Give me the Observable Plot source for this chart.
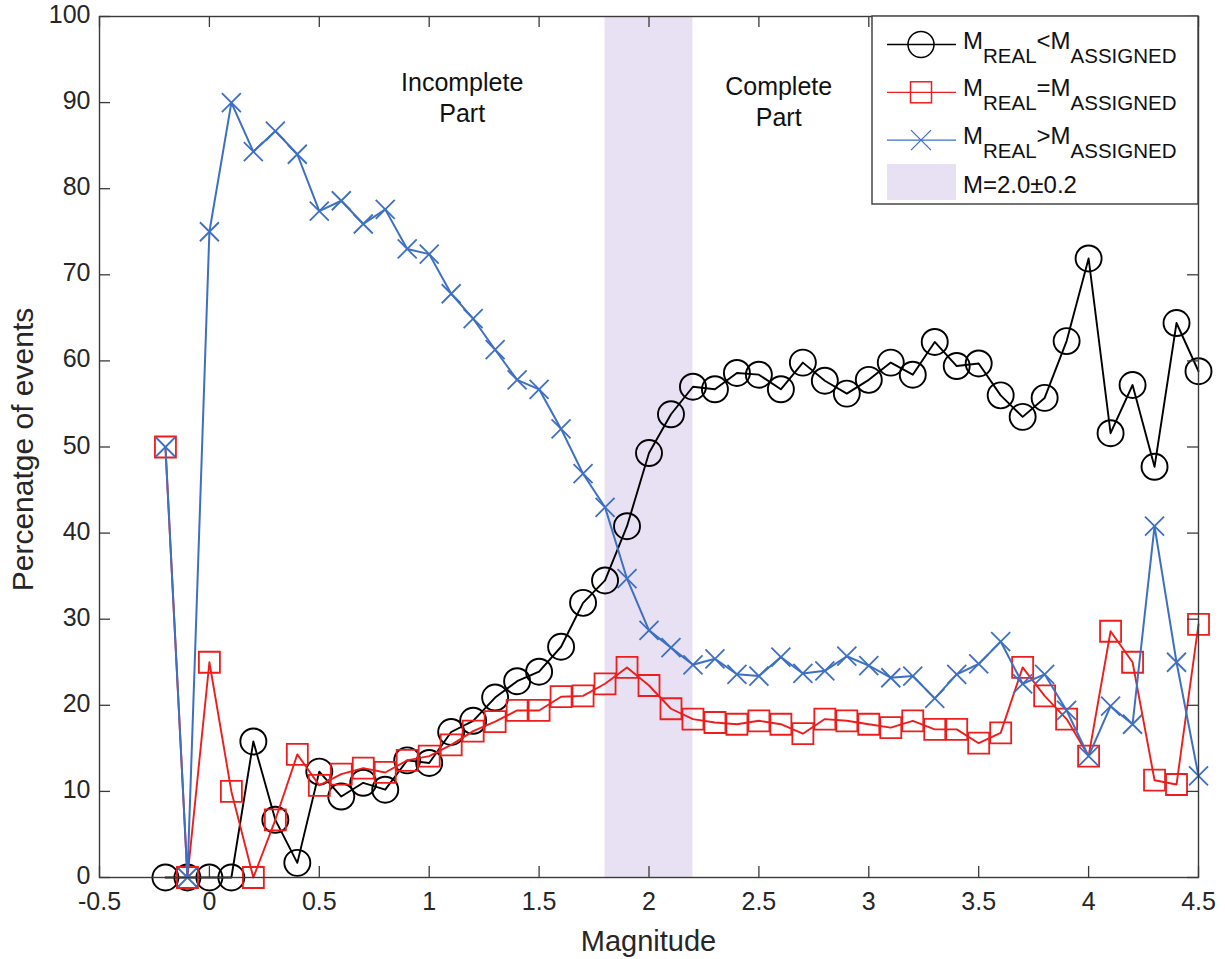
<!DOCTYPE html>
<html><head><meta charset="utf-8">
<script src="https://cdn.jsdelivr.net/npm/d3@7"></script>
<script src="https://cdn.jsdelivr.net/npm/@observablehq/plot@0.6"></script>
<style>
body{margin:0;background:#fff;}
#chart{position:relative;width:1225px;height:959px;}
</style>
</head><body><div id="chart"></div>
<script>
const magnitude = [-0.2,-0.1,0,0.1,0.2,0.3,0.4,0.5,0.6,0.7,0.8,0.9,1.0,1.1,1.2,1.3,1.4,1.5,1.6,1.7,1.8,1.9,2.0,2.1,2.2,2.3,2.4,2.5,2.6,2.7,2.8,2.9,3.0,3.1,3.2,3.3,3.4,3.5,3.6,3.7,3.8,3.9,4.0,4.1,4.2,4.3,4.4,4.5];
const realLess = [0,0,0,0,15.8,6.7,1.7,12.3,9.4,11.0,10.2,13.6,13.3,16.9,18.2,20.9,22.8,23.9,26.8,31.9,34.5,40.8,49.3,53.8,57.0,56.7,58.6,58.4,56.7,59.8,57.7,56.2,57.8,59.8,58.4,62.2,59.4,59.7,56.0,53.5,55.7,62.3,71.9,51.6,57.2,47.7,64.4,58.8];
const realEqual = [50,0,25,10,0,6.7,14.3,10.7,12.0,12.7,12.2,13.6,14.1,15.4,17.0,18.1,19.4,19.4,21.0,21.1,22.5,24.4,22.3,19.6,18.4,18.0,17.8,18.2,17.8,16.7,18.4,18.2,17.8,17.4,18.2,17.2,17.2,15.6,16.8,24.4,21.1,18.4,14.1,28.6,25.0,11.3,10.8,29.4];
const realGreater = [50,0,75,90,84.3,86.7,84.0,77.4,78.6,75.9,77.6,73.0,72.4,67.8,64.9,61.3,57.8,56.7,52.1,46.9,43.0,34.7,28.7,26.7,24.7,25.4,23.6,23.4,25.6,23.7,24.0,25.7,24.6,23.2,23.4,20.8,23.6,24.8,27.4,22.5,23.6,19.4,14.1,19.9,17.8,40.8,25.0,11.8];

const xTicks = [-0.5,0,0.5,1,1.5,2,2.5,3,3.5,4,4.5];
const xTickLabels = ["-0.5","0","0.5","1","1.5","2","2.5","3","3.5","4","4.5"];
const yTicks = [0,10,20,30,40,50,60,70,80,90,100];
const band = [{x1: 1.8, x2: 2.2}];
const annotations = [
  {x: 1.15, y: 93.9, text: "Incomplete\nPart"},
  {x: 2.59, y: 93.4, text: "Complete\nPart"}
];
const xLabel = "Magnitude";
const yLabel = "Percenatge of events";
const bandLabel = "M=2.0\u00B10.2";

const colBlack = "#000000", colRed = "#ee1d1d", colBlue = "#3d6fc2", colBand = "#e8e1f3", colAxis = "#3a3a3a";
const W = 1225, H = 959, mL = 99, mR = 27, mT = 16, mB = 82;
const innerW = W - mL - mR, innerH = H - mT - mB;
const FONT = "'Liberation Sans', Arial, Helvetica, sans-serif";

const toRows = ys => magnitude.map((m, i) => ({m, v: ys[i]}));
const lessRows = toRows(realLess), equalRows = toRows(realEqual), greaterRows = toRows(realGreater);
const xLabelMap = new Map(xTicks.map((t, i) => [t, xTickLabels[i]]));

const squareSym = {draw(ctx, size) { const r = Math.sqrt(size / Math.PI); ctx.moveTo(-r, -r); ctx.lineTo(r, -r); ctx.lineTo(r, r); ctx.lineTo(-r, r); ctx.closePath(); }};
const timesSym = {draw(ctx, size) { const r = Math.sqrt(size / Math.PI); ctx.moveTo(-r, -r); ctx.lineTo(r, r); ctx.moveTo(r, -r); ctx.lineTo(-r, r); }};

const chart = Plot.plot({
  width: W, height: H,
  marginLeft: mL, marginRight: mR, marginTop: mT, marginBottom: mB,
  x: {domain: [-0.5, 4.5]},
  y: {domain: [0, 100]},
  style: {fontFamily: FONT, fontSize: "25px", color: "#262626", background: "#fff", overflow: "visible"},
  marks: [
    Plot.rect(band, {x1: "x1", x2: "x2", fill: colBand}),
    Plot.line(lessRows, {x: "m", y: "v", stroke: colBlack, strokeWidth: 1.9}),
    Plot.dot(lessRows, {x: "m", y: "v", r: 13, stroke: colBlack, strokeWidth: 1.9, fill: "none"}),
    Plot.line(equalRows, {x: "m", y: "v", stroke: colRed, strokeWidth: 1.9}),
    Plot.dot(equalRows, {x: "m", y: "v", r: 10.5, symbol: squareSym, stroke: colRed, strokeWidth: 1.8, fill: "none"}),
    Plot.line(greaterRows, {x: "m", y: "v", stroke: colBlue, strokeWidth: 2}),
    Plot.dot(greaterRows, {x: "m", y: "v", r: 9.5, symbol: timesSym, stroke: colBlue, strokeWidth: 1.8, fill: "none"}),
    Plot.text(annotations, {x: "x", y: "y", text: "text", lineAnchor: "top", lineHeight: 1.24, fontSize: 25, fill: "#111", textAnchor: "middle"}),
    Plot.frame({stroke: colAxis, strokeWidth: 1.4}),
    Plot.tickX(xTicks, {x: d => d, insetTop: innerH - 11, stroke: colAxis, strokeWidth: 1.3}),
    Plot.tickX(xTicks, {x: d => d, insetBottom: innerH - 11, stroke: colAxis, strokeWidth: 1.3}),
    Plot.tickY(yTicks, {y: d => d, insetRight: innerW - 11, stroke: colAxis, strokeWidth: 1.3}),
    Plot.tickY(yTicks, {y: d => d, insetLeft: innerW - 11, stroke: colAxis, strokeWidth: 1.3}),
    Plot.axisX({ticks: xTicks, tickSize: 0, tickPadding: 15, tickFormat: d => xLabelMap.get(d), label: null, fontSize: 25}),
    Plot.axisY({ticks: yTicks, tickSize: 0, tickPadding: 9, dy: -1.5, label: null, fontSize: 25})
  ]
});
document.getElementById("chart").appendChild(chart);

// axis titles and legend
const svg = d3.select(chart);
svg.append("text").attr("x", mL + innerW / 2).attr("y", 951).attr("text-anchor", "middle")
  .attr("font-family", FONT).attr("font-size", 29).attr("fill", "#262626").text(xLabel);
svg.append("text").attr("transform", `translate(33,${mT + innerH / 2 + 3}) rotate(-90)`).attr("text-anchor", "middle")
  .attr("font-family", FONT).attr("font-size", 30).attr("fill", "#262626").text(yLabel);

const lg = svg.append("g").attr("transform", `translate(${W - mR - 326},${mT})`).attr("text-anchor", "start");
lg.append("rect").attr("x", 0).attr("y", 0).attr("width", 326).attr("height", 188)
  .attr("fill", "#fff").attr("stroke", colAxis).attr("stroke-width", 1.4);
const entries = [
  {color: colBlack, sym: "circle", op: "<"},
  {color: colRed, sym: "square", op: "="},
  {color: colBlue, sym: "times", op: ">"}
];
entries.forEach((e, i) => {
  const cy = 28.5 + i * 47.8;
  lg.append("line").attr("x1", 15).attr("x2", 84).attr("y1", cy).attr("y2", cy)
    .attr("stroke", e.color).attr("stroke-width", 1.3);
  if (e.sym === "circle") {
    lg.append("circle").attr("cx", 49).attr("cy", cy).attr("r", 13).attr("fill", "none").attr("stroke", e.color).attr("stroke-width", 1.5);
  } else if (e.sym === "square") {
    lg.append("rect").attr("x", 49 - 10.5).attr("y", cy - 10.5).attr("width", 21).attr("height", 21).attr("fill", "none").attr("stroke", e.color).attr("stroke-width", 1.5);
  } else {
    lg.append("path").attr("d", `M${49-10},${cy-10}L${49+10},${cy+10}M${49+10},${cy-10}L${49-10},${cy+10}`).attr("stroke", e.color).attr("stroke-width", 1.3);
  }
  const t = lg.append("text").attr("x", 91).attr("y", cy + 4).attr("text-anchor", "start")
    .attr("font-family", FONT).attr("font-size", 24).attr("fill", "#111");
  t.append("tspan").text("M");
  t.append("tspan").attr("dy", 14).attr("font-size", 20.5).text("REAL");
  t.append("tspan").attr("dy", -14).text(e.op + "M");
  t.append("tspan").attr("dy", 14).attr("font-size", 20.5).text("ASSIGNED");
});
lg.append("rect").attr("x", 15).attr("y", 148).attr("width", 69).attr("height", 36).attr("fill", colBand);
lg.append("text").attr("x", 91).attr("y", 177).attr("text-anchor", "start")
  .attr("font-family", FONT).attr("font-size", 24).attr("fill", "#111").text(bandLabel);
</script>
</body></html>
